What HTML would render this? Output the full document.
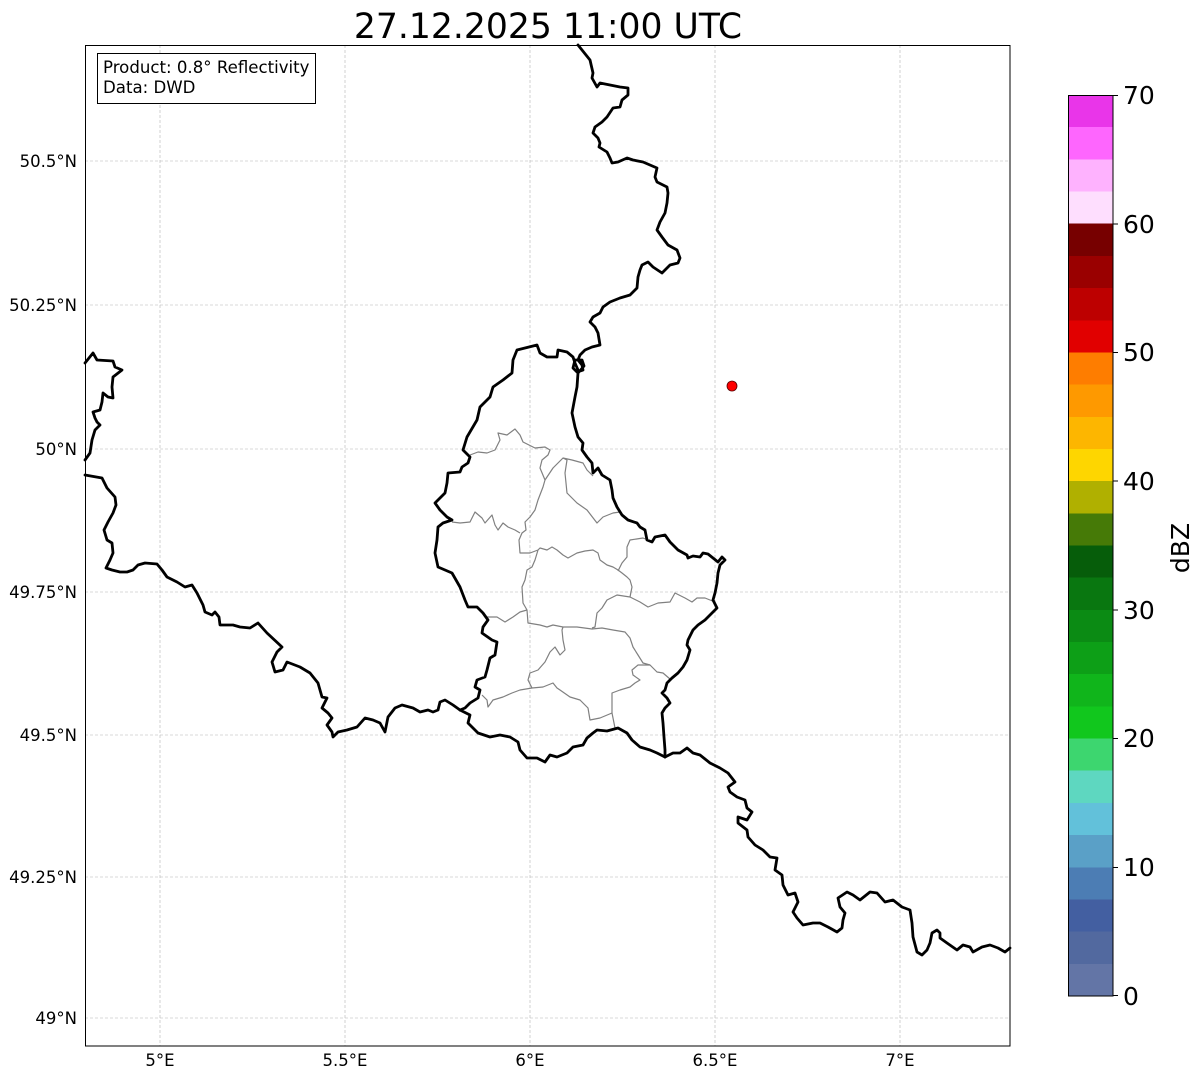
<!DOCTYPE html>
<html><head><meta charset="utf-8"><style>
html,body{margin:0;padding:0;background:#fff}
svg{display:block}
text{font-family:"DejaVu Sans","Liberation Sans",sans-serif;fill:#000}
</style></head><body>
<svg width="1202" height="1081" viewBox="0 0 1202 1081" xmlns="http://www.w3.org/2000/svg">
<rect width="1202" height="1081" fill="#fff"/>
<!-- grid -->
<g stroke="#b4b4b4" stroke-width="0.6" stroke-dasharray="3,2" fill="none">
<line x1="160" y1="45" x2="160" y2="1046"/><line x1="345" y1="45" x2="345" y2="1046"/><line x1="530" y1="45" x2="530" y2="1046"/><line x1="715" y1="45" x2="715" y2="1046"/><line x1="900" y1="45" x2="900" y2="1046"/>
<line x1="85" y1="161" x2="1010" y2="161"/><line x1="85" y1="305" x2="1010" y2="305"/><line x1="85" y1="449" x2="1010" y2="449"/><line x1="85" y1="592" x2="1010" y2="592"/><line x1="85" y1="735" x2="1010" y2="735"/><line x1="85" y1="877" x2="1010" y2="877"/><line x1="85" y1="1018" x2="1010" y2="1018"/>
</g>
<!-- admin (gray) -->
<g stroke="#808080" stroke-width="1.2" fill="none" stroke-linejoin="round">
<polyline points="470,455 478,452 487,453 495,450 500,440 498,433 507,435 515,429 520,435 523,442 535,448 545,447 550,450 548,455 542,460 540,468 545,480 543,487 538,500 535,510 530,517 525,522 526,530 522,533 519,540 520,553 530,553 538,550"/>
<polyline points="545,480 553,468 563,458 567,460 565,473 567,493 577,503 587,510 597,523 603,517 613,513 620,512"/>
<polyline points="563,458 572,460 583,463 587,470 593,476"/>
<polyline points="452,522 460,523 470,522 475,512 482,518 485,523 492,515 495,525 498,530 503,523 508,527 515,530 520,533"/>
<polyline points="538,550 540,548 547,550 552,547 557,550 563,555 568,558 577,553 585,551 593,550 598,553 600,560 607,565 613,567 618,570 622,573 627,577 630,580 632,587 630,597"/>
<polyline points="618,571 622,563 627,557 627,547 630,540 643,538 648,540"/>
<polyline points="715,602 705,598 697,598 692,602 685,598 675,593 670,602 658,603 648,607 640,602 630,597 617,595 607,600 602,608 597,613 595,627 592,628"/>
<polyline points="538,550 535,560 532,567 527,570 525,580 522,587 523,603 527,610 528,623 540,625 547,627 553,625 563,627 577,627 592,629 602,628 613,630 625,632 630,638 633,647 638,655 643,663 650,665 657,672 663,673 670,679"/>
<polyline points="487,617 497,617 505,622 513,617 520,612 527,610"/>
<polyline points="563,627 562,630 563,640 565,650 560,655 555,647 550,652 545,662 538,670 530,673 528,680 532,688"/>
<polyline points="482,695 487,700 488,707 493,700 503,697 512,693 520,690 532,688 543,687 553,683 557,688 560,690 570,697 580,700 588,708 590,720 600,718 612,713 615,728"/>
<polyline points="612,713 612,693 620,690 630,687 635,683 640,680 633,675 632,670 638,665 645,665 650,665"/>
</g>
<!-- borders -->
<g stroke="#000" stroke-width="2.8" fill="none" stroke-linejoin="round" stroke-linecap="round">
<polyline points="578,45 590,60 593,73 592,78 597,87 600,83 610,85 620,87 628,88 628,95 622,100 620,107 613,108 607,117 602,122 595,127 593,133 598,138 600,143 599,147 607,152 610,158 612,163 618,162 627,158 633,160 643,162 650,165 657,168 655,177 657,182 667,187 668,193 667,203 665,213 660,222 657,230 662,237 668,245 677,250 680,258 678,263 670,265 665,270 662,273 653,267 648,262 642,265 640,270 638,277 637,288 630,295 620,298 610,302 603,307 600,313 593,317 590,322 595,327 598,333 600,345 592,347 585,350 580,355 578,360 582,365 583,370 577,372 573,368 575,360 582,360 584,366 578,373 577,387 575,397 572,413 575,427 578,437 583,443 582,450 587,457 592,463 593,473 598,468 602,475 610,480 612,490 613,498 617,507 622,515 628,520 637,523 640,527 645,530 647,540 652,542 655,537 665,535 670,542 678,550 687,555 688,558 693,556 700,557 703,553 708,554 713,558 718,562 722,557 725,560 720,565 718,573 717,583 715,593 713,600 717,608 712,613 705,620 698,625 693,630 688,640 687,645 690,650 687,660 683,667 678,673 672,678 667,683 665,690 662,693 667,698 670,703 665,708 662,713 663,723 664,737 665,750 665,757"/>
<polyline points="665,757 673,753 680,753 687,748 693,753 700,755 710,763 720,768 728,773 735,782 728,787 730,792 737,797 745,800 747,808 752,812 747,820 738,817 738,823 747,830 748,837 755,845 763,850 770,857 777,858 775,870 782,875 783,885 788,895 795,893 798,902 793,912 797,918 803,925 813,923 820,923 828,927 837,932 842,928 843,920 845,913 840,907 838,898 847,892 853,895 860,900 870,892 877,893 885,902 893,900 902,907 910,910 912,923 913,937 917,952 922,955 927,950 930,943 932,933 937,930 940,933 940,938 947,943 957,950 963,945 970,947 973,952 982,947 990,945 998,948 1005,952 1010,948"/>
<polyline points="578,370 575,363 573,357 567,352 558,350 557,357 547,357 540,353 537,345 517,350 513,360 512,373 503,380 493,387 490,397 480,407 477,420 467,437 463,450 470,457 468,463 462,467 460,472 448,473 447,483 445,493 435,503 440,510 447,517 452,520 443,523 438,527 437,540 435,553 438,567 445,570 452,573 460,587 465,600 468,607 477,607 483,613 488,620 483,627 482,633 492,640 497,642 495,655 490,658 487,670 485,677 477,680 475,687 480,690 478,698 470,703 465,708 460,710"/>
<polyline points="460,710 470,715 468,723 478,733 490,737 500,735 510,737 518,742 520,750 527,758 537,758 545,762 550,755 557,757 567,753 573,747 583,745 587,738 593,733 597,730 607,731 618,728 627,733 632,740 640,747 650,750 657,753 665,757"/>
<polyline points="85,363 93,353 97,360 113,361 115,367 122,370 113,377 112,387 113,398 108,397 103,393 102,402 100,410 93,412 95,418 97,422 100,425 95,430 92,440 90,453 85,460"/>
<polyline points="85,475 102,478 107,488 115,497 116,505 113,513 108,522 104,530 107,540 112,543 113,553 110,560 106,568 112,570 120,572 127,572 133,570 138,565 145,563 157,564 162,570 167,577 177,582 185,587 192,585 197,593 203,605 205,612 212,615 215,612 219,617 220,625 233,625 240,627 250,628 258,623 267,633 282,647 277,652 272,662 275,672 283,670 287,662 300,667 310,673 318,683 322,697 327,698 322,708 328,713 332,718 327,725 332,732 333,737 338,732 347,730 357,727 365,718 373,720 380,723 385,732 388,717 395,708 402,705 413,708 420,712 428,710 433,712 438,710 440,702 445,700 453,705 460,710"/>
</g>
<!-- radar site -->
<circle cx="732" cy="386" r="5" fill="#ff0000" stroke="#550000" stroke-width="0.8"/>
<!-- frame -->
<rect x="85.5" y="45.5" width="924.5" height="1000.5" fill="none" stroke="#000" stroke-width="1"/>
<!-- info box -->
<rect x="97.5" y="53.5" width="218" height="50" fill="#fff" stroke="#000" stroke-width="1"/>
<text x="103" y="73" font-size="16.6">Product: 0.8° Reflectivity</text>
<text x="103" y="93" font-size="16.6">Data: DWD</text>
<!-- title -->
<text x="548" y="38" font-size="34.6" text-anchor="middle">27.12.2025 11:00 UTC</text>
<!-- y tick labels -->
<g font-size="16.5" text-anchor="end">
<text x="77" y="167">50.5°N</text>
<text x="77" y="311">50.25°N</text>
<text x="77" y="455">50°N</text>
<text x="77" y="598">49.75°N</text>
<text x="77" y="741">49.5°N</text>
<text x="77" y="883">49.25°N</text>
<text x="77" y="1024">49°N</text>
</g>
<g font-size="16.5" text-anchor="middle">
<text x="160" y="1066">5°E</text>
<text x="345" y="1066">5.5°E</text>
<text x="530" y="1066">6°E</text>
<text x="715" y="1066">6.5°E</text>
<text x="900" y="1066">7°E</text>
</g>
<!-- colorbar -->
<g shape-rendering="crispEdges">
<rect x="1068" y="95" width="45" height="32.3" fill="#e935e9"/>
<rect x="1068" y="127.2" width="45" height="32.3" fill="#fe66fe"/>
<rect x="1068" y="159.4" width="45" height="32.3" fill="#feb2fe"/>
<rect x="1068" y="191.5" width="45" height="32.3" fill="#fedefe"/>
<rect x="1068" y="223.7" width="45" height="32.3" fill="#770000"/>
<rect x="1068" y="255.9" width="45" height="32.3" fill="#9a0000"/>
<rect x="1068" y="288.1" width="45" height="32.3" fill="#bd0000"/>
<rect x="1068" y="320.3" width="45" height="32.3" fill="#e10000"/>
<rect x="1068" y="352.4" width="45" height="32.3" fill="#fe7d00"/>
<rect x="1068" y="384.6" width="45" height="32.3" fill="#fe9900"/>
<rect x="1068" y="416.8" width="45" height="32.3" fill="#fdb600"/>
<rect x="1068" y="449" width="45" height="32.3" fill="#fed600"/>
<rect x="1068" y="481.1" width="45" height="32.3" fill="#b0b000"/>
<rect x="1068" y="513.3" width="45" height="32.3" fill="#467a07"/>
<rect x="1068" y="545.5" width="45" height="32.3" fill="#065d0a"/>
<rect x="1068" y="577.7" width="45" height="32.3" fill="#097710"/>
<rect x="1068" y="609.9" width="45" height="32.3" fill="#0b8b14"/>
<rect x="1068" y="642" width="45" height="32.3" fill="#0d9f17"/>
<rect x="1068" y="674.2" width="45" height="32.3" fill="#10b51b"/>
<rect x="1068" y="706.4" width="45" height="32.3" fill="#11c71d"/>
<rect x="1068" y="738.6" width="45" height="32.3" fill="#3dd66f"/>
<rect x="1068" y="770.7" width="45" height="32.3" fill="#5ed7c0"/>
<rect x="1068" y="802.9" width="45" height="32.3" fill="#62c1da"/>
<rect x="1068" y="835.1" width="45" height="32.3" fill="#5aa0c7"/>
<rect x="1068" y="867.3" width="45" height="32.3" fill="#4c7db4"/>
<rect x="1068" y="899.4" width="45" height="32.3" fill="#435fa1"/>
<rect x="1068" y="931.6" width="45" height="32.3" fill="#52699f"/>
<rect x="1068" y="963.8" width="45" height="32.2" fill="#6375a6"/>
</g>
<rect x="1068.5" y="95.5" width="44.5" height="900.5" fill="none" stroke="#000" stroke-width="1"/>
<g stroke="#000" stroke-width="1">
<line x1="1113" y1="95.5" x2="1118" y2="95.5"/><line x1="1113" y1="224" x2="1118" y2="224"/><line x1="1113" y1="352.5" x2="1118" y2="352.5"/><line x1="1113" y1="481" x2="1118" y2="481"/><line x1="1113" y1="610" x2="1118" y2="610"/><line x1="1113" y1="738.5" x2="1118" y2="738.5"/><line x1="1113" y1="867.5" x2="1118" y2="867.5"/><line x1="1113" y1="995.5" x2="1118" y2="995.5"/>
</g>
<g font-size="25">
<text x="1123" y="104">70</text>
<text x="1123" y="233">60</text>
<text x="1123" y="361">50</text>
<text x="1123" y="490">40</text>
<text x="1123" y="619">30</text>
<text x="1123" y="747">20</text>
<text x="1123" y="876">10</text>
<text x="1123" y="1005">0</text>
</g>
<text x="0" y="0" font-size="25" text-anchor="middle" transform="translate(1189,548) rotate(-90)">dBZ</text>
</svg>
</body></html>
